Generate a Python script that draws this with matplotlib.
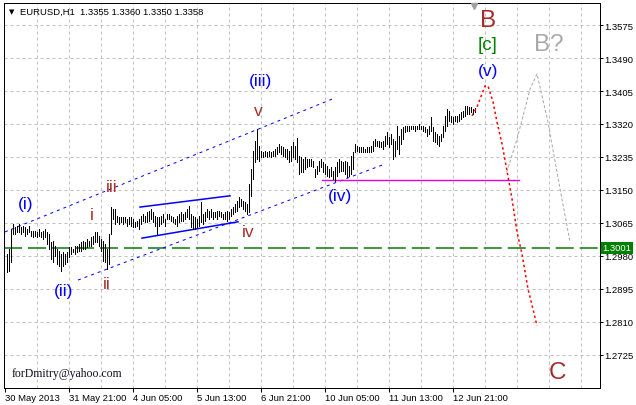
import matplotlib
matplotlib.use("Agg")
import matplotlib.pyplot as plt
import matplotlib.transforms as mtransforms
import numpy as np

# ---------------- data (EURUSD H1) ----------------
highs = [
    1.2985, 1.2998, 1.3050, 1.3062, 1.3055, 1.3057, 1.3062, 1.3055, 1.3057, 1.3055,
    1.3050, 1.3057, 1.3044, 1.3044, 1.3044, 1.3042, 1.3050, 1.3042, 1.3044, 1.3050,
    1.3042, 1.3037, 1.3016, 1.3019, 1.3006, 1.2998, 1.2993, 1.2985, 1.2990, 1.2985,
    1.2990, 1.3003, 1.3003, 1.2998, 1.3006, 1.3006, 1.3011, 1.3016, 1.3019, 1.3016,
    1.3024, 1.3019, 1.3029, 1.3031, 1.3042, 1.3042, 1.3031, 1.3024, 1.3019, 1.3011,
    1.2998, 1.3037, 1.3106, 1.3101, 1.3101, 1.3083, 1.3080, 1.3080, 1.3080, 1.3080,
    1.3075, 1.3080, 1.3080, 1.3075, 1.3068, 1.3070, 1.3075, 1.3083, 1.3088, 1.3083,
    1.3093, 1.3096, 1.3101, 1.3093, 1.3083, 1.3080, 1.3080, 1.3083, 1.3088, 1.3075,
    1.3088, 1.3088, 1.3083, 1.3080, 1.3075, 1.3083, 1.3088, 1.3093, 1.3088, 1.3093,
    1.3101, 1.3109, 1.3088, 1.3083, 1.3080, 1.3075, 1.3083, 1.3119, 1.3088, 1.3093,
    1.3101, 1.3096, 1.3101, 1.3093, 1.3093, 1.3096, 1.3096, 1.3093, 1.3088, 1.3093,
    1.3096, 1.3093, 1.3101, 1.3106, 1.3114, 1.3122, 1.3132, 1.3127, 1.3122, 1.3119,
    1.3114, 1.3165, 1.3204, 1.3250, 1.3276, 1.3307, 1.3263, 1.3250, 1.3248, 1.3250,
    1.3248, 1.3250, 1.3248, 1.3250, 1.3256, 1.3261, 1.3269, 1.3263, 1.3261, 1.3256,
    1.3256, 1.3250, 1.3263, 1.3274, 1.3263, 1.3284, 1.3238, 1.3235, 1.3230, 1.3235,
    1.3230, 1.3230, 1.3230, 1.3225, 1.3204, 1.3212, 1.3225, 1.3230, 1.3222, 1.3217,
    1.3212, 1.3204, 1.3209, 1.3199, 1.3209, 1.3222, 1.3230, 1.3225, 1.3222, 1.3225,
    1.3222, 1.3212, 1.3238, 1.3248, 1.3269, 1.3263, 1.3261, 1.3261, 1.3261, 1.3256,
    1.3261, 1.3261, 1.3263, 1.3276, 1.3281, 1.3276, 1.3276, 1.3274, 1.3276, 1.3289,
    1.3299, 1.3287, 1.3294, 1.3281, 1.3276, 1.3315, 1.3289, 1.3307, 1.3312, 1.3315,
    1.3315, 1.3315, 1.3315, 1.3315, 1.3315, 1.3315, 1.3320, 1.3315, 1.3315, 1.3312,
    1.3307, 1.3315, 1.3338, 1.3312, 1.3299, 1.3294, 1.3289, 1.3294, 1.3315, 1.3341,
    1.3359, 1.3354, 1.3341, 1.3338, 1.3341, 1.3341, 1.3346, 1.3351, 1.3354, 1.3366,
    1.3366, 1.3364, 1.3364, 1.3359, 1.3360,
]
lows = [
    1.2939, 1.2941, 1.2965, 1.3037, 1.3037, 1.3042, 1.3042, 1.3037, 1.3042, 1.3031,
    1.3037, 1.3042, 1.3031, 1.3029, 1.3031, 1.3029, 1.3031, 1.3029, 1.3024, 1.3029,
    1.3011, 1.2998, 1.2972, 1.2965, 1.2980, 1.2959, 1.2954, 1.2941, 1.2954, 1.2959,
    1.2965, 1.2977, 1.2985, 1.2990, 1.2985, 1.2990, 1.2993, 1.2993, 1.2998, 1.2998,
    1.3003, 1.3006, 1.3006, 1.3011, 1.3016, 1.3016, 1.3006, 1.2993, 1.2967, 1.2965,
    1.2946, 1.2959, 1.3037, 1.3075, 1.3062, 1.3068, 1.3062, 1.3068, 1.3062, 1.3068,
    1.3057, 1.3062, 1.3057, 1.3055, 1.3055, 1.3057, 1.3050, 1.3062, 1.3070, 1.3068,
    1.3068, 1.3070, 1.3075, 1.3068, 1.3057, 1.3037, 1.3057, 1.3062, 1.3068, 1.3057,
    1.3075, 1.3075, 1.3070, 1.3068, 1.3062, 1.3057, 1.3068, 1.3070, 1.3070, 1.3075,
    1.3080, 1.3075, 1.3055, 1.3050, 1.3050, 1.3055, 1.3057, 1.3068, 1.3062, 1.3070,
    1.3080, 1.3075, 1.3080, 1.3075, 1.3080, 1.3075, 1.3083, 1.3080, 1.3075, 1.3075,
    1.3070, 1.3075, 1.3083, 1.3088, 1.3093, 1.3096, 1.3106, 1.3109, 1.3101, 1.3096,
    1.3088, 1.3093, 1.3135, 1.3178, 1.3222, 1.3230, 1.3225, 1.3235, 1.3235, 1.3238,
    1.3235, 1.3238, 1.3235, 1.3238, 1.3238, 1.3243, 1.3248, 1.3243, 1.3238, 1.3235,
    1.3230, 1.3222, 1.3225, 1.3235, 1.3230, 1.3222, 1.3191, 1.3196, 1.3196, 1.3204,
    1.3209, 1.3212, 1.3212, 1.3209, 1.3183, 1.3191, 1.3199, 1.3209, 1.3196, 1.3191,
    1.3186, 1.3183, 1.3186, 1.3178, 1.3173, 1.3186, 1.3196, 1.3199, 1.3199, 1.3191,
    1.3183, 1.3186, 1.3191, 1.3204, 1.3248, 1.3250, 1.3248, 1.3248, 1.3248, 1.3248,
    1.3248, 1.3248, 1.3248, 1.3250, 1.3263, 1.3263, 1.3261, 1.3261, 1.3256, 1.3263,
    1.3269, 1.3261, 1.3269, 1.3230, 1.3238, 1.3256, 1.3243, 1.3269, 1.3281, 1.3299,
    1.3302, 1.3302, 1.3307, 1.3307, 1.3302, 1.3307, 1.3307, 1.3307, 1.3302, 1.3299,
    1.3289, 1.3294, 1.3302, 1.3276, 1.3274, 1.3269, 1.3263, 1.3276, 1.3287, 1.3302,
    1.3315, 1.3328, 1.3325, 1.3320, 1.3328, 1.3325, 1.3328, 1.3333, 1.3338, 1.3341,
    1.3346, 1.3346, 1.3351, 1.3346, 1.3350,
]

price_ticks = [1.2725, 1.2810, 1.2895, 1.2980, 1.3065, 1.3150,
               1.3235, 1.3320, 1.3405, 1.3490, 1.3575]
date_tick_idx = [-1, 31, 63, 95, 127, 159, 191, 223]
date_labels = ["30 May 2013", "31 May 21:00", "4 Jun 05:00", "5 Jun 13:00",
               "6 Jun 21:00", "10 Jun 05:00", "11 Jun 13:00", "12 Jun 21:00"]
grid_idx = [-1 + 16 * k for k in range(1, 19)]

support_level = 1.3001          # green dashed level
iv_level = 1.3176               # magenta horizontal

upper_channel_idx = [-0.85, 162.65]
upper_channel_price = [1.3042, 1.3384]
lower_channel_idx = [35.65, 189.15]
lower_channel_price = [1.2918, 1.3217]
wedge_top_idx = [66.65, 111.65]
wedge_top_price = [1.3106, 1.3135]
wedge_bot_idx = [67.65, 115.65]
wedge_bot_price = [1.3026, 1.3068]
iv_line_idx = [157.65, 256.15]

red_path_idx = [232.65, 235.15, 239.15, 240.65, 243.15, 245.15, 247.65,
                250.15, 252.65, 255.15, 257.65, 260.65, 263.15, 265.15]
red_path_price = [1.3341, 1.3364, 1.3418, 1.3418, 1.3377, 1.3325, 1.3269,
                  1.3199, 1.3127, 1.3042, 1.2985, 1.2895, 1.2843, 1.2800]
gray_path_idx = [250.0, 255.15, 261.65, 265.15, 270.65, 276.65, 281.65]
gray_path_price = [1.3196, 1.3281, 1.3410, 1.3449, 1.3325, 1.3153, 1.3016]

assert len(highs) == len(lows), (len(highs), len(lows))

# ---------------- drawing ----------------
plt.rcParams['font.family'] = ['Liberation Sans', 'DejaVu Sans']
PX = 0.72  # one pixel in points at dpi=100

fig = plt.figure(figsize=(6.36, 4.06), dpi=100)
fig.patch.set_facecolor('white')
ax = fig.add_axes([4 / 636, 17 / 406, 596 / 636, 385 / 406])
ax.set_xlim(-1.35, 296.65)
ax.set_ylim(1.26399, 1.36317)
ax.set_facecolor('white')

# grid
for p in price_ticks:
    ax.axhline(p, color='#c0c0c0', lw=PX, ls=(0, (3, 3)), zorder=0.5)
for g in grid_idx:
    ax.axvline(g, color='#c0c0c0', lw=PX, ls=(0, (3, 3)), zorder=0.5)

# support level
ax.axhline(support_level, color='#0a7a0a', lw=1.1, ls=(0, (11.8, 3.9)), zorder=1)

# bars
idx = np.arange(len(highs))
ax.vlines(idx, lows, highs, colors='black', lw=PX, antialiased=False, zorder=3)

# channel / wedge lines
ax.plot(upper_channel_idx, upper_channel_price, color='blue', lw=PX,
        ls=(0, (3, 4)), zorder=2)
ax.plot(lower_channel_idx, lower_channel_price, color='blue', lw=PX,
        ls=(0, (3, 4)), zorder=2)
ax.plot(wedge_top_idx, wedge_top_price, color='blue', lw=1.1, zorder=2)
ax.plot(wedge_bot_idx, wedge_bot_price, color='blue', lw=1.1, zorder=2)
ax.plot(iv_line_idx, [iv_level, iv_level], color='#e000e0', lw=1.0, zorder=2)

# projections
ax.plot(red_path_idx, red_path_price, color='red', lw=1.1,
        ls=(0, (1.6, 1.8)), zorder=4)
ax.plot(gray_path_idx, gray_path_price, color='#a8a8a8', lw=PX,
        ls=(0, (3, 2)), zorder=4)

# wave labels
def lab(txt, x, y, color, size):
    ax.text(x, y, txt, color=color, fontsize=size, ha='center', va='center',
            zorder=6)

lab("(i)", 9.65, 1.3116, 'blue', 12.5)
lab("(ii)", 28.65, 1.2890, 'blue', 12.5)
lab("(iii)", 126.65, 1.3431, 'blue', 12.5)
lab("(iv)", 166.65, 1.3135, 'blue', 12.5)
lab("(v)", 240.65, 1.3457, 'blue', 12.5)
lab("i", 42.65, 1.3088, '#a5322d', 12.5)
lab("ii", 50.15, 1.2910, '#a5322d', 12.5)
lab("iii", 52.65, 1.3160, '#a5322d', 12.5)
lab("iv", 120.65, 1.3042, '#a5322d', 12.5)
lab("v", 125.65, 1.3356, '#a5322d', 12.5)
lab("B", 240.65, 1.3588, '#a52a2a', 17.5)
lab("[c]", 240.65, 1.3526, '#008000', 13.5)
lab("B?", 271.15, 1.3526, '#a9a9a9', 17.5)
lab("C", 275.15, 1.2681, '#a52a2a', 17.5)

# axes styling
for s in ax.spines.values():
    s.set_color('black')
    s.set_linewidth(PX)
ax.yaxis.tick_right()
ax.set_yticks(price_ticks)
ax.set_yticklabels([f"{p:.4f}" for p in price_ticks])
ax.tick_params(axis='y', direction='out', length=2.2, width=PX, pad=0.8,
               labelsize=6.8, colors='black')
ax.set_xticks(date_tick_idx)
ax.set_xticklabels(date_labels)
ax.tick_params(axis='x', direction='out', length=2.9, width=PX, pad=0.6,
               labelsize=6.8, colors='black')
for t in ax.get_xticklabels():
    t.set_horizontalalignment('left')

# current level price box
blend = mtransforms.blended_transform_factory(ax.transAxes, ax.transData)
ax.text(1.004, support_level, "1.3001", transform=blend, color='white',
        fontsize=6.8, ha='left', va='center', clip_on=False, zorder=10,
        bbox=dict(facecolor='#008000', edgecolor='none', pad=1.2))

# chart shift marker
ax.plot([233.65], [0.9925], marker='v', color='#a0a0a0', ms=5,
        transform=mtransforms.blended_transform_factory(ax.transData, ax.transAxes),
        clip_on=False, zorder=10)

# title
fig.text(9 / 636, 1 - 14.5 / 406, "\u25bc", fontsize=5, color='black',
         family=['DejaVu Sans'], va='baseline')
fig.text(20 / 636, 1 - 15 / 406, "EURUSD,H1  1.3355 1.3360 1.3350 1.3358",
         fontsize=6.8, color='black', va='baseline')

# watermark
ax.text(0.0134, 0.031, "forDmitry@yahoo.com", transform=ax.transAxes,
        fontsize=8.5, family=['Liberation Serif', 'DejaVu Serif'],
        color='#101020', va='baseline', ha='left', zorder=6)

fig.savefig("out.png", dpi=100, facecolor='white')
